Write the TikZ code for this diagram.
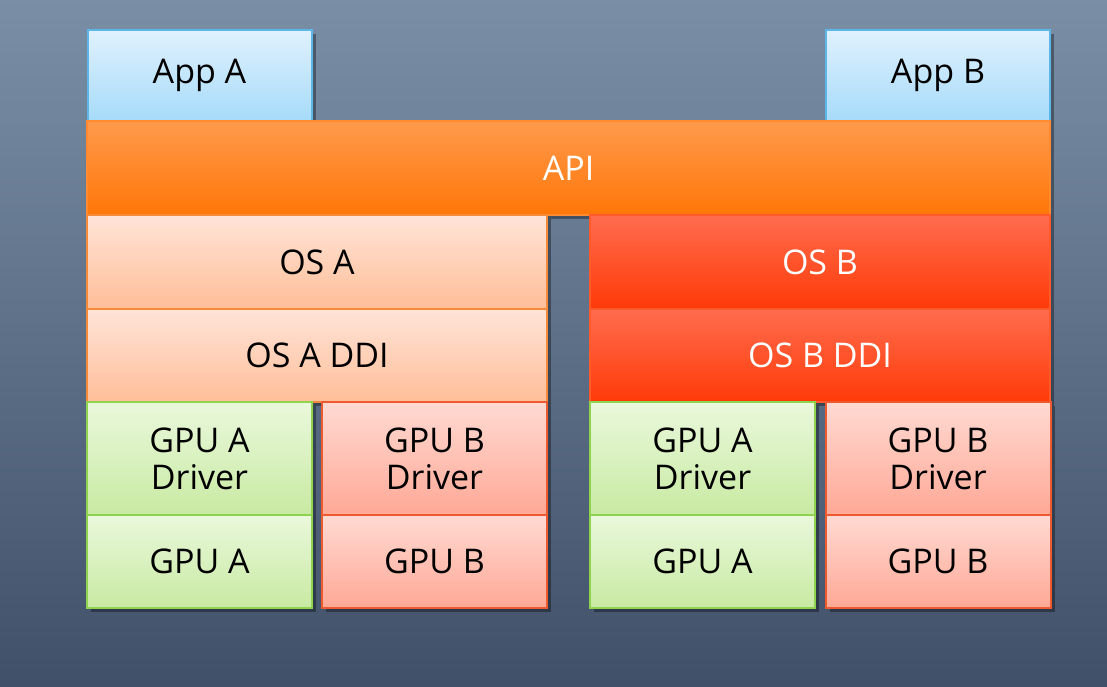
\documentclass[tikz,border=0pt]{standalone}
\usepackage{fontspec}
\setmainfont{Open Sans}
\usetikzlibrary{positioning,shadows}
\definecolor{bgtop}{HTML}{7A8FA6}
\definecolor{bgbot}{HTML}{405068}
\definecolor{apptop}{HTML}{E0F1FD}
\definecolor{appbot}{HTML}{A6DBFA}
\definecolor{appline}{HTML}{5DB6E8}
\definecolor{apitop}{HTML}{FF9A4C}
\definecolor{apibot}{HTML}{FF7608}
\definecolor{apiline}{HTML}{FF8A30}
\definecolor{osatop}{HTML}{FFE4D8}
\definecolor{osabot}{HTML}{FFBE98}
\definecolor{osaline}{HTML}{F58A3A}
\definecolor{osbtop}{HTML}{FF6C4E}
\definecolor{osbbot}{HTML}{FF3A08}
\definecolor{osbline}{HTML}{FF5A2C}
\definecolor{gpuatop}{HTML}{EAF8DC}
\definecolor{gpuabot}{HTML}{C8EAA2}
\definecolor{gpualine}{HTML}{8FD34E}
\definecolor{gpubtop}{HTML}{FFDAD2}
\definecolor{gpubbot}{HTML}{FFA896}
\definecolor{gpubline}{HTML}{EE5A30}
\tikzset{
  layer/.style={rectangle, draw, line width=1pt, inner sep=0pt, align=center,
                font=\fontsize{17}{18.5}\selectfont,
                drop shadow={shadow xshift=2pt, shadow yshift=-2pt, opacity=0.35, fill=black}},
  app/.style={layer, top color=apptop, bottom color=appbot, draw=appline,
              minimum width=112pt, minimum height=45.5pt},
  api/.style={layer, top color=apitop, bottom color=apibot, draw=apiline, text=white,
              minimum width=481.5pt, minimum height=47pt},
  osa/.style={layer, top color=osatop, bottom color=osabot, draw=osaline,
              minimum width=230pt, minimum height=46.75pt},
  osb/.style={layer, top color=osbtop, bottom color=osbbot, draw=osbline, text=white,
              minimum width=230pt, minimum height=46.75pt},
  gpua/.style={layer, top color=gpuatop, bottom color=gpuabot, draw=gpualine,
               minimum width=112.5pt},
  gpub/.style={layer, top color=gpubtop, bottom color=gpubbot, draw=gpubline,
               minimum width=112.5pt},
  driver/.style={minimum height=56.5pt},
  chip/.style={minimum height=46.5pt}
}

\begin{document}
\begin{tikzpicture}[x=0.5pt,y=-0.5pt]
    % Background
    \useasboundingbox (0,0) rectangle (1107,686);
    \shade[top color=bgtop, bottom color=bgbot] (0,0) rectangle (1107,686);
    % Applications and API
    \node (appa) [app] at (199.5,75.5) {App A};
    \node (appb) [app] at (938,75.5) {App B};
    \node (api) [api] at (568.5,168) {API};
    % Operating systems
    \node (osa) [osa] at (317,262) {OS A};
    \node (osaddi) [osa] at (317,355.5) {OS A DDI};
    \node (osb) [osb] at (820,262) {OS B};
    \node (osbddi) [osb] at (820,355.5) {OS B DDI};
    % Drivers
    \node (drvaa) [gpua,driver] at (199.5,458.5) {GPU A\\Driver};
    \node (drvab) [gpub,driver] at (434.5,458.5) {GPU B\\Driver};
    \node (drvba) [gpua,driver] at (702.5,458.5) {GPU A\\Driver};
    \node (drvbb) [gpub,driver] at (938,458.5) {GPU B\\Driver};
    % GPUs
    \node (gpuaa) [gpua,chip] at (199.5,561.5) {GPU A};
    \node (gpuab) [gpub,chip] at (434.5,561.5) {GPU B};
    \node (gpuba) [gpua,chip] at (702.5,561.5) {GPU A};
    \node (gpubb) [gpub,chip] at (938,561.5) {GPU B};
\end{tikzpicture}
\end{document}
